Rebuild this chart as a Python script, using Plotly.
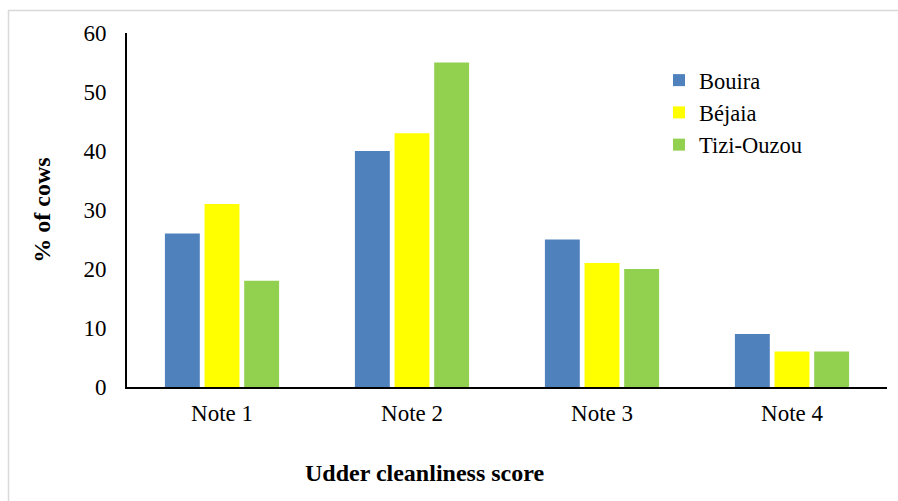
import plotly.graph_objects as go

categories = ["Note 1", "Note 2", "Note 3", "Note 4"]
bouira = [26, 40, 25, 9]
bejaia = [31, 43, 21, 6]
tizi_ouzou = [18, 55, 20, 6]

series = [
    ("Bouira", bouira, "#4F81BD"),
    ("Béjaia", bejaia, "#FFFF00"),
    ("Tizi-Ouzou", tizi_ouzou, "#92D050"),
]

W, H = 898, 501
L, R, T, B = 127, 11, 33, 114
pw, ph = W - L - R, H - T - B

def px(x):
    return (x - L) / pw

def py(y):
    return (H - B - y) / ph

font = "Liberation Serif, Times New Roman, serif"

fig = go.Figure()
for name, vals, color in series:
    fig.add_trace(go.Bar(x=categories, y=vals, name=name, marker_color=color,
                         marker_line_width=0))

fig.update_layout(
    width=W, height=H,
    margin=dict(l=L, r=R, t=T, b=B),
    paper_bgcolor="white", plot_bgcolor="white",
    barmode="group", bargap=0.374, bargroupgap=0.12,
    font=dict(family=font, size=23, color="black"),
    showlegend=True,
    legend=dict(x=px(659), y=py(59), xanchor="left", yanchor="top",
                font=dict(family=font, size=22.5), tracegroupgap=0,
                itemwidth=30, bgcolor="rgba(0,0,0,0)"),
    xaxis=dict(showline=True, linecolor="black", linewidth=2, ticks="",
               tickfont=dict(family=font, size=23), showgrid=False,
               ticklabelstandoff=4),
    yaxis=dict(range=[0, 60], dtick=10, showline=True, linecolor="black",
               linewidth=2, ticks="", showgrid=False, zeroline=False,
               tickfont=dict(family=font, size=23), ticklabelstandoff=14,
               title=dict(text="<b>% of cows</b>", standoff=26,
                          font=dict(family=font, size=24))),
    shapes=[dict(type="rect", xref="paper", yref="paper",
                 x0=px(8.5), x1=px(905), y0=py(10.5), y1=py(520),
                 line=dict(color="#D9D9D9", width=1.5), layer="below")],
    annotations=[dict(text="<b>Udder cleanliness score</b>", xref="paper",
                      yref="paper", x=px(424), y=py(473), showarrow=False,
                      xanchor="center", yanchor="middle",
                      font=dict(family=font, size=24))],
)

fig.write_html("out.html")
